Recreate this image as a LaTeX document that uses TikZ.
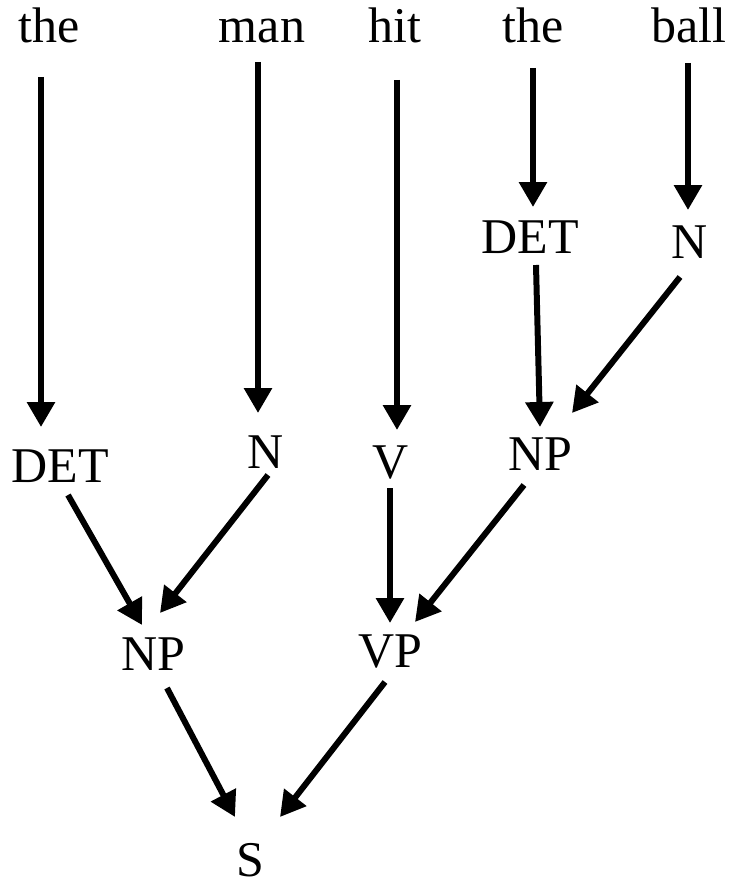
\documentclass[tikz,border=0pt]{standalone}
\usepackage{fontspec}
\setmainfont{Liberation Serif}
\usetikzlibrary{arrows.meta}

\begin{document}
\begin{tikzpicture}[x=0.5pt,y=-0.5pt,
        lbl/.style={font=\fontsize{25}{30}\selectfont, inner sep=0pt, anchor=base},
        arr/.style={line width=3pt, -{Triangle[length=12.5pt,width=13.5pt]}}]
        \useasboundingbox (0,0) rectangle (734,883);
        % words
        \node[lbl] (the1) at (49,43) {the};
        \node[lbl] (man) at (262,43) {man};
        \node[lbl] (hit) at (395,43) {hit};
        \node[lbl] (the2) at (533,43) {the};
        \node[lbl] (ball) at (689,43) {ball};
        % categories
        \node[lbl] (det2) at (530,253) {DET};
        \node[lbl] (n2) at (690,258) {N};
        \node[lbl] (det1) at (60,482) {DET};
        \node[lbl] (n1) at (266,468) {N};
        \node[lbl] (v) at (391,478) {V};
        \node[lbl] (np2) at (540,470) {NP};
        \node[lbl] (np1) at (153,670) {NP};
        \node[lbl] (vp) at (390,667) {VP};
        \node[lbl] (s) at (250,876) {S};
        % arrows
        \draw[arr] ([shift={(-8,34)}]the1.base) -- ([shift={(-19,-55)}]det1.base);
        \draw[arr] ([shift={(-4,19)}]man.base) -- ([shift={(-8,-55)}]n1.base);
        \draw[arr] ([shift={(2,37)}]hit.base) -- ([shift={(6,-48)}]v.base);
        \draw[arr] ([shift={(0,25)}]the2.base) -- ([shift={(3,-46)}]det2.base);
        \draw[arr] ([shift={(-1,20)}]ball.base) -- ([shift={(-2,-48)}]n2.base);
        \draw[arr] ([shift={(6,12)}]det2.base) -- ([shift={(0,-43)}]np2.base);
        \draw[arr] ([shift={(-10,19)}]n2.base) -- ([shift={(32,-57)}]np2.base);
        \draw[arr] ([shift={(8,13)}]det1.base) -- ([shift={(-11,-45)}]np1.base);
        \draw[arr] ([shift={(2,7)}]n1.base) -- ([shift={(7,-57)}]np1.base);
        \draw[arr] ([shift={(-1,10)}]v.base) -- ([shift={(0,-44)}]vp.base);
        \draw[arr] ([shift={(-16,15)}]np2.base) -- ([shift={(25,-45)}]vp.base);
        \draw[arr] ([shift={(14,18)}]np1.base) -- ([shift={(-15,-59)}]s.base);
        \draw[arr] ([shift={(-5,15)}]vp.base) -- ([shift={(30,-59)}]s.base);
    \end{tikzpicture}
\end{document}
